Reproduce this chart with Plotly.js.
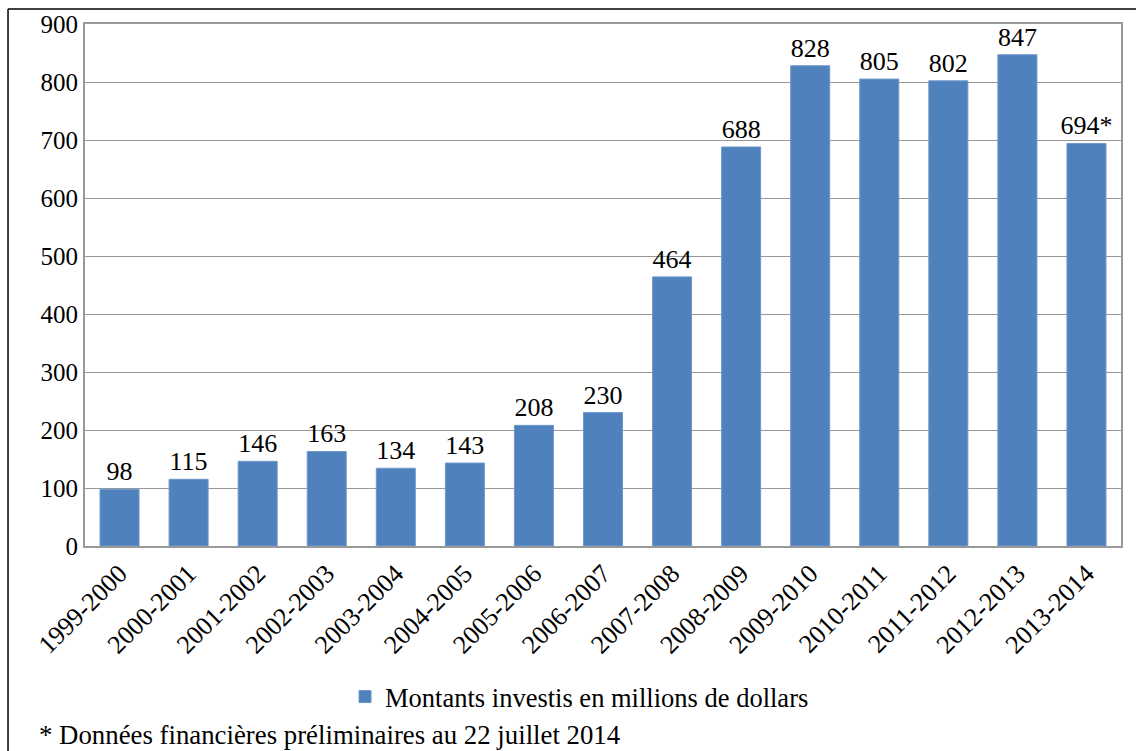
<!DOCTYPE html>
<html>
<head>
<meta charset="utf-8">
<script src="https://cdn.plot.ly/plotly-3.0.1.min.js"></script>
<style>html,body{margin:0;padding:0;background:#fff;}#chart{width:1136px;height:751px;}</style>
</head>
<body>
<div id="chart"></div>
<script>
const categories = ["1999-2000","2000-2001","2001-2002","2002-2003","2003-2004","2004-2005","2005-2006","2006-2007","2007-2008","2008-2009","2009-2010","2010-2011","2011-2012","2012-2013","2013-2014"];
const values = [98,115,146,163,134,143,208,230,464,688,828,805,802,847,694];
const preliminary = [false,false,false,false,false,false,false,false,false,false,false,false,false,false,true];
const seriesName = "Montants investis en millions de dollars";
const footnote = "* Données financières préliminaires au 22 juillet 2014";
const yTicks = [0,100,200,300,400,500,600,700,800,900];

const labels = values.map((v,i) => String(v) + (preliminary[i] ? "*" : ""));
const FONT = "'Liberation Serif', 'Times New Roman', Times, serif";

const trace = {
  type: "bar",
  x: categories,
  y: values,
  name: seriesName,
  text: labels,
  textposition: "outside",
  constraintext: "none",
  cliponaxis: false,
  textfont: {family: FONT, size: 26, color: "#000"},
  marker: {color: "#4F81BD", line: {color: "#6f97c9", width: 1}},
  showlegend: true
};

const layout = {
  width: 1136, height: 751,
  margin: {l: 85, r: 15, t: 24, b: 205},
  paper_bgcolor: "#fff", plot_bgcolor: "#fff",
  font: {family: FONT, size: 24, color: "#000"},
  bargap: 0.435,
  xaxis: {
    type: "category",
    tickangle: -45,
    tickfont: {family: FONT, size: 26, color: "#000"},
    showline: true, mirror: true, linecolor: "#999", linewidth: 2,
    showgrid: false, ticks: ""
  },
  yaxis: {
    range: [0, 900],
    tickvals: yTicks,
    tickfont: {family: FONT, size: 25, color: "#000"},
    showline: true, mirror: true, linecolor: "#999", linewidth: 2,
    showgrid: true, gridcolor: "#999", gridwidth: 1,
    zeroline: false, ticks: ""
  },
  showlegend: true,
  legend: {
    orientation: "h", x: 0.251, xanchor: "left", y: -0.289, yanchor: "middle",
    font: {family: FONT, size: 26.5, color: "#000"}
  },
  annotations: [{
    text: footnote, xref: "paper", yref: "paper",
    x: -0.0465, y: -0.362, xanchor: "left", yanchor: "middle",
    showarrow: false, font: {family: FONT, size: 26.8, color: "#000"}
  }],
  shapes: [
    {type: "line", xref: "paper", yref: "paper", x0: -0.0743, x1: -0.0743, y0: -0.45, y1: 1.0287, line: {color: "#000", width: 1.5}},
    {type: "line", xref: "paper", yref: "paper", x0: -0.0743, x1: 1.05, y0: 1.0287, y1: 1.0287, line: {color: "#000", width: 1.5}}
  ]
};

Plotly.newPlot("chart", [trace], layout, {displayModeBar: false, staticPlot: true});
</script>
</body>
</html>
